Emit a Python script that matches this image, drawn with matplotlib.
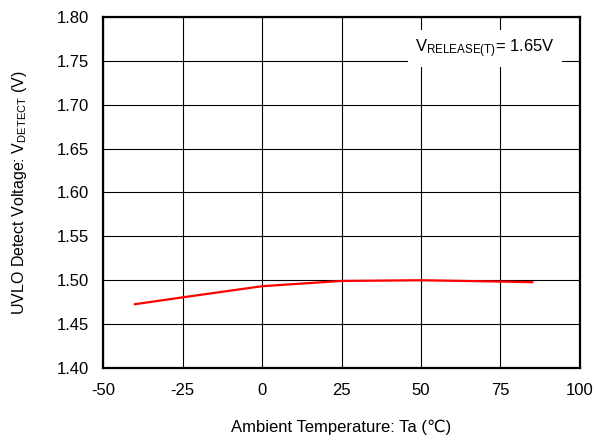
import matplotlib
matplotlib.use("Agg")
import matplotlib.pyplot as plt

plt.rcParams["font.family"] = ["Liberation Sans", "DejaVu Sans"]
plt.rcParams["mathtext.default"] = "regular"
plt.rcParams["axes.unicode_minus"] = False

# datos
temp = [-40, -25, 0, 25, 50, 75, 85]
v_detect = [1.4727, 1.4805, 1.4932, 1.4992, 1.5000, 1.4985, 1.4978]

x_ticks = [-50, -25, 0, 25, 50, 75, 100]
y_ticks = [1.40, 1.45, 1.50, 1.55, 1.60, 1.65, 1.70, 1.75, 1.80]

fig = plt.figure(figsize=(5.96, 4.45), dpi=100)
ax = fig.add_axes([0.173, 0.173, 0.800, 0.789])

ax.plot(temp, v_detect, color="#ff0000", lw=1.6, zorder=3)

ax.set_xlim(-50, 100)
ax.set_ylim(1.40, 1.80)
ax.set_xticks(x_ticks)
ax.set_yticks(y_ticks)
ax.set_yticklabels([f"{v:.2f}" for v in y_ticks])
ax.tick_params(length=0, labelsize=12)
ax.tick_params(axis="x", pad=11)
ax.tick_params(axis="y", pad=10)
ax.grid(True, color="black", lw=0.8)
for s in ax.spines.values():
    s.set_linewidth(1.6)

ax.set_xlabel("Ambient Temperature: Ta (\u2103)", fontsize=12, labelpad=15)
ax.set_ylabel("UVLO Detect Voltage: $V_{DETECT}$ (V)", fontsize=11.5, labelpad=20)

# etiqueta con fondo blanco que tapa la rejilla
ax.text(70, 1.777, "$V_{RELEASE(T)}$= 1.65V", ha="center", va="top", fontsize=12,
        bbox=dict(facecolor="white", edgecolor="none", pad=5), zorder=4)

fig.savefig("out.png", dpi=100)
